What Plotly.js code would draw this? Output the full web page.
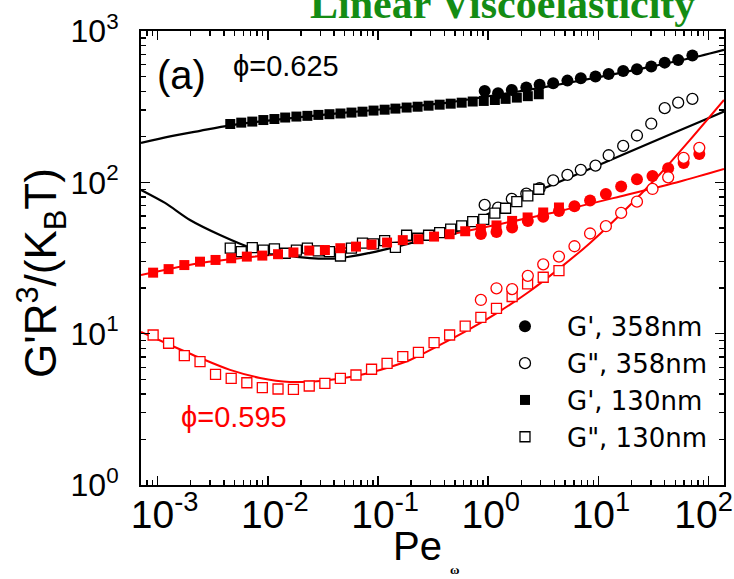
<!DOCTYPE html>
<html>
<head>
<meta charset="utf-8">
<script src="https://cdn.plot.ly/plotly-3.0.1.min.js"></script>
<style>html,body{margin:0;padding:0;background:#fff;}#chart{width:734px;height:579px;}</style>
</head>
<body>
<div id="chart"></div>
<script>
// ---------- data ----------
// phi = 0.625, 358 nm particles
const x358_625   = [0.93, 1.23, 1.64, 2.22, 2.93, 3.89, 5.24, 6.93, 9.42, 12.4, 16.8, 22.4, 30.2, 40.0, 53.0, 71.3];
const gp358_625  = [402, 388, 408, 423, 441, 452, 470, 488, 500, 519, 545, 559, 582, 618, 644, 688];
const gpp358_625 = [70.9, 68.0, 77.7, 84.2, 91.4, 103, 112, 121, 129, 151, 174, 204, 244, 309, 336, 356];
// phi = 0.625, 130 nm particles
const x130_625   = [0.00457, 0.00575, 0.00724, 0.00912, 0.0115, 0.0144, 0.0182, 0.0229, 0.0288, 0.0363,
                    0.0457, 0.0575, 0.0724, 0.0912, 0.115, 0.144, 0.182, 0.229, 0.288, 0.363,
                    0.457, 0.575, 0.724, 0.912, 1.15, 1.44, 1.82, 2.29, 2.88];
const gp130_625  = [243, 248, 252, 258, 262, 268, 272, 275, 279, 282,
                    285, 289, 293, 298, 302, 307, 312, 316, 321, 326,
                    331, 336, 342, 345, 350, 356, 363, 371, 382];
const gpp130_625 = [36.7, 34.8, 37.0, 35.7, 36.3, 34.0, 35.7, 36.7, 35.2, 34.8,
                    32.6, 36.7, 39.6, 39.2, 41.2, 37.2, 44.7, 42.7, 44.7, 46.5,
                    49.0, 51.5, 55.0, 57.0, 62.5, 67.4, 74.6, 81.3, 90.0];
// phi = 0.595, 358 nm particles
const x358_595   = [0.859, 1.19, 1.65, 2.29, 3.16, 4.39, 6.07, 8.41, 11.7, 16.1, 22.4, 31.0, 43.0, 59.4, 82.4];
const gp358_595  = [45.6, 47.0, 50.3, 55.6, 59.3, 64.7, 69.5, 75.9, 83.8, 93.7, 104.8, 110.2, 124, 134, 154];
const gpp358_595 = [16.7, 19.95, 19.7, 24.1, 28.7, 32.3, 37.8, 45.9, 51.3, 62.8, 74.5, 90.4, 108, 145, 169];
// phi = 0.595, 130 nm particles
const x130_595   = [0.000912, 0.00126, 0.00175, 0.00243, 0.00336, 0.00466, 0.00646, 0.00893, 0.0124, 0.0171,
                    0.0238, 0.0330, 0.0456, 0.0632, 0.0875, 0.121, 0.168, 0.233, 0.323, 0.447,
                    0.619, 0.859, 1.19, 1.65, 2.28, 3.16, 4.39];
const gp130_595  = [25.3, 26.7, 28.4, 29.9, 30.7, 31.5, 32.3, 32.8, 33.5, 34.4,
                    35.4, 35.7, 36.7, 37.6, 38.8, 40.0, 41.5, 42.1, 43.8, 45.4,
                    47.5, 49.2, 51.9, 55.6, 58.6, 63.2, 68.2];
const gpp130_595 = [9.80, 8.64, 7.15, 6.53, 5.39, 5.07, 4.74, 4.40, 4.31, 4.29,
                    4.51, 4.70, 5.07, 5.33, 5.82, 6.37, 7.05, 7.53, 8.72, 9.80,
                    11.2, 12.8, 14.7, 17.6, 21.3, 23.6, 26.1];
// model curves
const fitGp625_x  = [0.000708, 0.0013, 0.00243, 0.00455, 0.0196, 0.1045, 0.451, 1.04, 2.96, 10.36, 29.4, 83.7, 138];
const fitGp625_y  = [182, 201, 219, 238, 270, 303, 338, 372, 421, 497, 580, 684, 750];
const fitGpp625_x = [0.000708, 0.00117, 0.00197, 0.00369, 0.00694, 0.01293, 0.0242, 0.0453, 0.0848, 0.1586,
                     0.297, 0.556, 1.04, 1.948, 2.958, 10.36, 29.45, 83.7, 138];
const fitGpp625_y = [89.1, 73.1, 56.4, 44.9, 37.1, 33.4, 31.6, 31.6, 34.2, 38.0,
                     42.9, 48.5, 62.8, 77.7, 89.1, 131, 182, 251, 294];
const fitGp595_x  = [0.000708, 0.00243, 0.00851, 0.0298, 0.1045, 0.366, 1.282, 4.49, 15.7, 55.1, 138];
const fitGp595_y  = [24.4, 29.3, 32.6, 35.5, 38.9, 43.9, 53.1, 64.7, 80.7, 101.4, 122.6];
const fitGpp595_x = [0.000708, 0.0013, 0.00243, 0.00455, 0.00851, 0.01594, 0.0298, 0.0558, 0.1045, 0.1956,
                     0.366, 0.685, 1.282, 2.40, 4.49, 8.41, 19.4, 36.3, 67.9, 138];
const fitGpp595_y = [10.26, 8.42, 6.91, 5.76, 5.10, 4.80, 4.87, 5.17, 5.76, 6.70,
                     8.42, 10.74, 14.1, 19.15, 27.2, 39.8, 70.9, 113.6, 190.6, 350];
// tick labels
const xTickVals = [0.001, 0.01, 0.1, 1, 10, 100];
const xTickExp  = ['-3', '-2', '-1', '0', '1', '2'];
const yTickVals = [1, 10, 100, 1000];
const yTickText = ['10<sup>0</sup>', '10<sup>1</sup>', '10<sup>2</sup>', '10<sup>3</sup>'];
const legendNames = ["G', 358nm", 'G", 358nm', "G', 130nm", 'G", 130nm'];

// ---------- build ----------
const BLACK = '#000000', RED = '#ff0000';
const FONT = 'Liberation Sans, Arial, Helvetica, sans-serif';
const minorVals = [];
for (let d = -4; d <= 3; d++) for (let k = 2; k <= 9; k++) minorVals.push(k * Math.pow(10, d));
// "10" centred on the tick (as in the original): a transparent copy of the exponent on the left,
// except for the last label, which must stay inside the picture
const xTickText = xTickExp.map((e, i) => (i < xTickExp.length - 1
  ? '<sup><span style="color:rgba(0,0,0,0)">' + e + '</span></sup>' : '') + '10<sup>' + e + '</sup>');

function line(x, y, color, w) {
  return {x: x, y: y, mode: 'lines', type: 'scatter', showlegend: false, hoverinfo: 'skip',
          line: {color: color, width: w, shape: 'spline', smoothing: 0.8}};
}
function pts(x, y, sym, color, filled, size, name, rank) {
  return {x: x, y: y, mode: 'markers', type: 'scatter', name: name || '',
          showlegend: !!name, legendrank: rank || 1000,
          marker: {symbol: sym, size: size, color: filled ? color : '#ffffff',
                   line: {color: color, width: filled ? 0 : 1.3}}};
}

const traces = [
  line(fitGp625_x, fitGp625_y, BLACK, 2.2),
  line(fitGpp625_x, fitGpp625_y, BLACK, 2.2),
  line(fitGp595_x, fitGp595_y, RED, 2),
  line(fitGpp595_x, fitGpp595_y, RED, 2),
  pts(x130_625, gp130_625, 'square', BLACK, true, 10, legendNames[2], 3),
  pts(x358_625, gp358_625, 'circle', BLACK, true, 12, legendNames[0], 1),
  pts(x358_625, gpp358_625, 'circle', BLACK, false, 11, legendNames[1], 2),
  pts(x130_625, gpp130_625, 'square', BLACK, false, 10, legendNames[3], 4),
  pts(x130_595, gpp130_595, 'square', RED, false, 10),
  pts(x130_595, gp130_595, 'square', RED, true, 10),
  pts(x358_595, gp358_595, 'circle', RED, true, 12),
  pts(x358_595, gpp358_595, 'circle', RED, false, 11)
];

const axisCommon = {
  type: 'log', showline: true, linecolor: BLACK, linewidth: 2, mirror: 'ticks',
  ticks: 'inside', ticklen: 9, tickwidth: 1.6, tickcolor: BLACK,
  tickmode: 'array', showgrid: false, zeroline: false, ticklabeloverflow: 'allow',
  minor: {ticks: 'inside', ticklen: 5, tickwidth: 1.4, tickcolor: BLACK,
          tickmode: 'array', tickvals: minorVals, showgrid: false}
};

function ann(text, x, y, size, color, family, angle) {
  return {text: text, xref: 'paper', yref: 'paper', x: x, y: y, xanchor: 'center', yanchor: 'middle',
          textangle: angle || 0, showarrow: false,
          font: {family: family || FONT, size: size, color: color || BLACK}};
}

const layout = {
  width: 734, height: 579,
  margin: {l: 141, r: 10, t: 31, b: 94, pad: 0},
  paper_bgcolor: '#ffffff', plot_bgcolor: '#ffffff',
  font: {family: FONT, color: BLACK},
  showlegend: true,
  legend: {x: 0.5866, y: 0.401, xanchor: 'left', yanchor: 'top', bgcolor: 'rgba(0,0,0,0)',
           font: {family: 'DejaVu Sans, Liberation Sans, sans-serif', size: 26, color: BLACK},
           itemwidth: 74, tracegroupgap: 0},
  xaxis: Object.assign({}, axisCommon, {
    range: [-3.15, 2.14], tickvals: xTickVals, ticktext: xTickText, ticklabelstandoff: -6,
    ticklabelshift: -5,
    tickfont: {family: FONT, size: 39, color: BLACK}
  }),
  yaxis: Object.assign({}, axisCommon, {
    range: [0, 3], tickvals: yTickVals, ticktext: yTickText, ticklabelstandoff: 14,
    tickfont: {family: FONT, size: 32, color: BLACK}
  }),
  annotations: [
    ann('<b>Linear Viscoelasticity</b>', 0.62, 1.0595, 42, '#148c14', 'Liberation Serif, Times New Roman, serif'),
    ann('(a)', 0.0703, 0.903, 40),
    ann('ϕ=0.625', 0.2487, 0.923, 29),
    ann('ϕ=0.595', 0.1595, 0.1498, 29, RED),
    ann('Pe', 0.4751, -0.1344, 40),
    ann('<b>ω</b>', 0.5386, -0.1861, 13, BLACK, 'Liberation Serif, serif'),
    ann("G'R<sup>3</sup>/(K<sub>B</sub>T)", -0.1698, 0.467, 44, BLACK, FONT, -90)
  ]
};

Plotly.newPlot('chart', traces, layout, {staticPlot: true, displayModeBar: false});
</script>
</body>
</html>
